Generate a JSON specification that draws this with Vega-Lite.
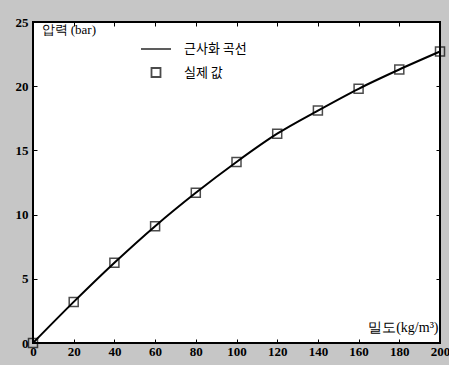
{
  "$schema": "https://vega.github.io/schema/vega-lite/v6.json",
  "width": 407,
  "height": 321,
  "autosize": {"type": "none"},
  "padding": {"left": 33, "top": 22, "right": 9, "bottom": 22},
  "background": "#c6c6c6",
  "view": {"fill": "white", "stroke": "black", "strokeWidth": 2},
  "config": {"font": "Liberation Serif"},
  "data": {
    "values": [
      {"density": 0, "pressure": 0, "series": "실제 값"},
      {"density": 20, "pressure": 3.2, "series": "실제 값"},
      {"density": 40, "pressure": 6.25, "series": "실제 값"},
      {"density": 60, "pressure": 9.1, "series": "실제 값"},
      {"density": 80, "pressure": 11.7, "series": "실제 값"},
      {"density": 100, "pressure": 14.1, "series": "실제 값"},
      {"density": 120, "pressure": 16.3, "series": "실제 값"},
      {"density": 140, "pressure": 18.1, "series": "실제 값"},
      {"density": 160, "pressure": 19.8, "series": "실제 값"},
      {"density": 180, "pressure": 21.3, "series": "실제 값"},
      {"density": 200, "pressure": 22.7, "series": "실제 값"}
    ]
  },
  "layer": [
    {
      "mark": {"type": "line", "interpolate": "monotone", "color": "black", "strokeWidth": 2},
      "encoding": {
        "x": {
          "field": "density", "type": "quantitative",
          "scale": {"domain": [0, 200], "nice": false, "zero": false},
          "axis": {
            "orient": "bottom", "values": [0, 20, 40, 60, 80, 100, 120, 140, 160, 180, 200],
            "tickSize": -4, "tickColor": "black", "domain": false, "grid": false,
            "labelPadding": 6, "labelFlush": false, "labelOverlap": false,
            "labelFont": "Liberation Serif", "labelFontWeight": "bold", "labelFontSize": 13, "labelColor": "black",
            "title": "밀도(kg/m³)", "titleX": 405, "titleY": -16, "titleAlign": "right", "titleBaseline": "middle",
            "titleFont": "Liberation Serif", "titleFontWeight": "normal", "titleFontSize": 14, "titleColor": "black"
          }
        },
        "y": {
          "field": "pressure", "type": "quantitative",
          "scale": {"domain": [0, 25], "nice": false, "zero": false},
          "axis": {
            "orient": "left", "values": [0, 5, 10, 15, 20, 25],
            "tickSize": -4, "tickColor": "black", "domain": false, "grid": false,
            "labelPadding": 9, "labelFlush": false, "labelOverlap": false,
            "labelFont": "Liberation Serif", "labelFontWeight": "bold", "labelFontSize": 13, "labelColor": "black",
            "title": "압력 (bar)", "titleAngle": 0, "titleX": 8, "titleY": 7, "titleAlign": "left", "titleBaseline": "middle",
            "titleFont": "Liberation Serif", "titleFontWeight": "normal", "titleFontSize": 13, "titleColor": "black"
          }
        }
      }
    },
    {
      "mark": {"type": "point", "filled": false, "color": "black", "strokeWidth": 1.5},
      "encoding": {
        "x": {
          "field": "density", "type": "quantitative",
          "axis": {"orient": "top", "values": [0, 20, 40, 60, 80, 100, 120, 140, 160, 180, 200], "tickSize": -4, "tickColor": "black", "labels": false, "domain": false, "grid": false, "title": null}
        },
        "y": {
          "field": "pressure", "type": "quantitative",
          "axis": {"orient": "right", "values": [0, 5, 10, 15, 20, 25], "tickSize": -4, "tickColor": "black", "labels": false, "domain": false, "grid": false, "title": null}
        },
        "shape": {
          "field": "series", "type": "nominal",
          "scale": {"domain": ["근사화 곡선", "실제 값"], "range": ["stroke", "square"]},
          "legend": {
            "title": null, "orient": "none", "legendX": 107, "legendY": 11,
            "padding": 0, "rowPadding": 8, "labelOffset": 12,
            "labelFont": "Noto Sans CJK KR", "labelFontSize": 13, "labelColor": "black",
            "symbolStrokeColor": "black", "symbolFillColor": "transparent", "symbolStrokeWidth": 1.8
          }
        },
        "size": {
          "field": "series", "type": "nominal",
          "scale": {"domain": ["근사화 곡선", "실제 값"], "range": [900, 81]},
          "legend": {
            "title": null, "orient": "none", "legendX": 107, "legendY": 11,
            "padding": 0, "rowPadding": 8, "labelOffset": 12,
            "labelFont": "Noto Sans CJK KR", "labelFontSize": 13, "labelColor": "black",
            "symbolStrokeColor": "black", "symbolFillColor": "transparent", "symbolStrokeWidth": 1.8
          }
        }
      }
    }
  ],
  "resolve": {"axis": {"x": "independent", "y": "independent"}}
}
